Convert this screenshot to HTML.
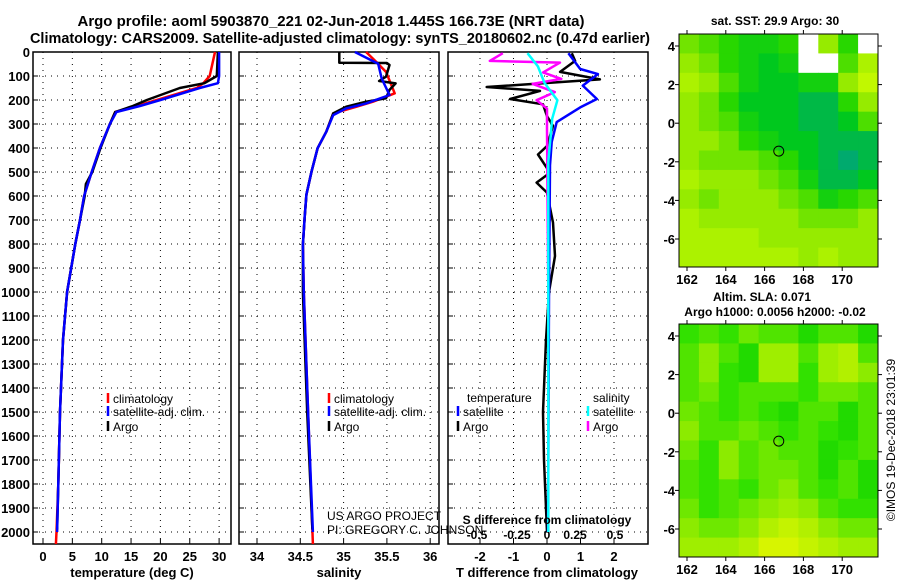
<!DOCTYPE html>
<html><head><meta charset="utf-8"><style>
html,body{margin:0;padding:0;background:#fff}
svg{display:block;font-family:"Liberation Sans",sans-serif}
.b{font-weight:bold}
</style></head><body>
<svg id="s" width="900" height="580" xmlns="http://www.w3.org/2000/svg">
<text x="331" y="26" text-anchor="middle" class="b" font-size="14.5" textLength="507" lengthAdjust="spacingAndGlyphs">Argo profile: aoml 5903870_221 02-Jun-2018 1.445S 166.73E (NRT data)</text>
<text x="340" y="43" text-anchor="middle" class="b" font-size="14.5" textLength="620" lengthAdjust="spacingAndGlyphs">Climatology: CARS2009. Satellite-adjusted climatology: synTS_20180602.nc (0.47d earlier)</text>
<text x="775" y="25" text-anchor="middle" class="b" font-size="12">sat. SST: 29.9 Argo: 30</text>
<text x="762" y="301" text-anchor="middle" class="b" font-size="12">Altim. SLA: 0.071</text>
<text x="775" y="316" text-anchor="middle" class="b" font-size="12">Argo h1000: 0.0056 h2000: -0.02</text>
<text x="0" y="0" transform="translate(895,440) rotate(-90)" text-anchor="middle" font-size="12">©IMOS 19-Dec-2018 23:01:39</text>
<text x="327" y="520" font-size="12">US ARGO PROJECT</text>
<text x="327" y="534" font-size="12">PI: GREGORY C. JOHNSON</text>
<g id="g"></g>
</svg>
<script>
// ---- data ----
const depthTicks=[0,100,200,300,400,500,600,700,800,900,1000,1100,1200,1300,1400,1500,1600,1700,1800,1900,2000];
const tempTicks=[0,5,10,15,20,25,30];
const salTicks=[34,34.5,35,35.5,36];
const tdTicks=[-2,-1,0,1,2];
const sdTicks=["-0.5","-0.25","0","0.25","0.5"];
const climTDepth=[0,100,130,150,200,225,250,300,400,500,600,700,800,1000,1200,1500,1800,2000,2050];
const climTemp=[29.3,28.4,27.3,26.2,19.4,16.0,12.3,11.4,9.7,8.3,7.0,6.3,5.5,4.1,3.4,2.9,2.6,2.3,2.2];
const satTDepth=[0,100,130,150,200,225,250,300,400,500,600,700,800,1000,1200,1500,1800,2000];
const satTemp=[30,30,29.8,26.7,20,16.5,12.5,11.4,9.7,8.3,7.0,6.3,5.5,4.1,3.4,2.9,2.6,2.4];
const argoTDepth=[0,100,130,150,200,225,250,300,400,500,550,600,700,800,1000,1200,1500,1800,1990];
const argoTemp=[29.8,29.6,27.5,23.3,17.7,15.3,12.3,11.4,9.8,8.4,7.3,7.1,6.3,5.5,4.1,3.4,2.9,2.6,2.4];
const climSDepth=[0,42,83,172,207,228,256,332,401,497,594,692,803,1000,1500,2050];
const climSal=[35.26,35.38,35.49,35.59,35.34,35.15,34.88,34.8,34.7,34.63,34.57,34.55,34.53,34.54,34.59,34.645];
const satSDepth=[0,49,111,179,214,235,263,332,401,497,594,692,803,1000,1500,2000];
const satSal=[35.13,35.4,35.44,35.53,35.26,35.03,34.88,34.8,34.7,34.63,34.57,34.55,34.53,34.54,34.59,34.645];
const argoSDepth=[0,45,46,54,103,121,131,158,193,207,228,256,332,401,497,594,692,803,914,1000,1500,1990];
const argoSal=[34.95,34.95,35.5,35.53,35.49,35.41,35.6,35.53,35.49,35.26,35.03,34.88,34.8,34.7,34.63,34.57,34.55,34.53,34.53,34.53,34.58,34.64];
const argoTdDepth=[5,37,83,114,146,162,196,218,267,308,392,427,503,544,586,711,850,1000,1200,1500,1700,2000];
const argoTd=[0.74,0.84,0.39,1.58,-1.8,-0.21,-1.1,-0.12,0,0.18,0,-0.27,0.09,-0.31,0,0.18,0.24,0.06,-0.03,-0.12,-0.09,0];
const satTdDepth=[5,71,92,140,196,231,292,375,472,1000,2000];
const satTd=[0.64,0.99,1.52,1.07,1.49,0.99,0.29,0.14,0.09,0.06,0.03];
const argoSdDepth=[5,37,44,85,112,133,167,201,236,319,1000,2000];
const argoSd=[-0.34,-0.44,0.1,-0.03,0.11,-0.11,0.06,-0.08,0,0,0.01,0.01];
const satSdDepth=[5,60,128,201,278,458,2000];
const satSd=[-0.15,-0.07,-0.02,0.08,0.04,0.01,0.01];
const lonTicks=[162,164,166,168,170];
const latTicks=[4,2,0,-2,-4,-6];
const sstGrid=[
[.4,.5,.6,.7,.7,.6,-1,.3,.6,-1],
[.3,.4,.6,.7,.8,.7,-1,-1,.5,.2],
[.2,.3,.5,.7,.8,.8,.7,.7,.3,.1],
[.3,.4,.6,.8,.8,.8,.9,.9,.6,.3],
[.3,.4,.5,.7,.8,.8,.9,.9,.8,.5],
[.3,.3,.4,.6,.7,.8,.8,.9,.9,.9],
[.3,.4,.4,.4,.5,.6,.8,.9,1,.9],
[.2,.3,.3,.3,.4,.5,.7,.9,.9,.8],
[.3,.4,.3,.3,.3,.4,.5,.7,.6,.5],
[.2,.3,.3,.3,.3,.3,.4,.4,.4,.3],
[.2,.2,.2,.2,.3,.3,.3,.3,.3,.3],
[.2,.2,.2,.2,.2,.2,.3,.2,.3,.3]];
const slaGrid=[
[.7,.6,.7,.5,.6,.6,.8,.6,.6,.8],
[.6,.4,.6,.8,.3,.3,.6,.3,.2,.6],
[.6,.4,.7,.8,.3,.3,.7,.3,.2,.4],
[.6,.5,.7,.6,.6,.6,.7,.5,.5,.6],
[.5,.6,.7,.6,.7,.8,.6,.6,.8,.6],
[.4,.6,.6,.5,.6,.7,.6,.7,.8,.6],
[.5,.7,.4,.6,.5,.6,.6,.8,.7,.6],
[.6,.7,.4,.6,.5,.5,.6,.8,.6,.8],
[.6,.7,.6,.7,.5,.4,.6,.7,.6,.8],
[.5,.7,.6,.5,.4,.3,.4,.6,.7,.7],
[.4,.5,.5,.4,.2,.1,.2,.4,.5,.5],
[.3,.3,.3,.2,0,0,.1,.2,.3,.3]];
const argoLon=166.73, argoLat=-1.445;

// ---- helpers ----
const NS="http://www.w3.org/2000/svg";
const G=document.getElementById('g');
function mk(tag,attrs,parent){const e=document.createElementNS(NS,tag);for(const k in attrs)e.setAttribute(k,attrs[k]);(parent||G).appendChild(e);return e;}
const yD=d=>52+d*0.24;
const PT=52,PB=544;
const xT=t=>43+t*5.87;
const xS=s=>257+(s-34)*86.6;
const xTd=v=>547+v*33.5;
const xSd=v=>547+v*130;

function panel(x0,x1,name){
  const r=mk('rect',{x:x0,y:PT,width:x1-x0,height:PB-PT,fill:'none',stroke:'#000','stroke-width':1.5});
  
  
  depthTicks.forEach(d=>{
    const l=mk('line',{x1:x0,x2:x1,y1:yD(d),y2:yD(d),stroke:'#000','stroke-dasharray':'1 5'});
    
    
    mk('line',{x1:x0,x2:x0+5,y1:yD(d),y2:yD(d),stroke:'#000'});
  });
}
function vgrid(xs,x0,name){
  xs.forEach(x=>{
    const l=mk('line',{x1:x,x2:x,y1:PT,y2:PB,stroke:'#000','stroke-dasharray':'1 5'});
    
    
    mk('line',{x1:x,x2:x,y1:PB,y2:PB-5,stroke:'#000'});
  });
}
function line(depths,vals,fx,color,name,w){
  const pts=depths.map((d,i)=>fx(vals[i]).toFixed(1)+','+yD(d).toFixed(1)).join(' ');
  const p=mk('polyline',{points:pts,fill:'none',stroke:color,'stroke-width':w||2.5,'stroke-linejoin':'round'});
  
  
}
function txt(x,y,s,opts){
  const t=mk('text',Object.assign({x:x,y:y,'font-size':13,'font-weight':'bold'},opts||{}));
  t.textContent=s;return t;
}

// Panel 1: temperature
panel(33,231,'temperature-panel');
vgrid(tempTicks.map(xT),33,'temperature-gridline');
tempTicks.forEach(t=>{const e=txt(xT(t),561,String(t),{'text-anchor':'middle'});});
depthTicks.forEach(d=>{const e=txt(30,yD(d)+5,String(d),{'text-anchor':'end'});});
line(climTDepth,climTemp,xT,'#f00','temperature-climatology-line');
line(argoTDepth,argoTemp,xT,'#000','temperature-argo-line');
line(satTDepth,satTemp,xT,'#00f','temperature-satellite-line');
{const e=txt(132,577,'temperature (deg C)',{'text-anchor':'middle'});}

// Panel 2: salinity
panel(239,439,'salinity-panel');
vgrid(salTicks.map(xS),239,'salinity-gridline');
salTicks.forEach(s=>{const e=txt(xS(s),561,String(s),{'text-anchor':'middle'});});
line(climSDepth,climSal,xS,'#f00','salinity-climatology-line');
line(argoSDepth,argoSal,xS,'#000','salinity-argo-line');
line(satSDepth,satSal,xS,'#00f','salinity-satellite-line');
{const e=txt(339,577,'salinity',{'text-anchor':'middle'});}

// Panel 3: differences
panel(448,648,'difference-panel');
vgrid(tdTicks.map(xTd),448,'difference-gridline');
tdTicks.forEach(t=>{const e=txt(xTd(t),561,String(t),{'text-anchor':'middle'});});
const sdPos=[477,517,547,575,615];
sdTicks.forEach((s,i)=>{const e=txt(sdPos[i],539,s,{'text-anchor':'middle','font-size':12});});
line(argoTdDepth,argoTd,xTd,'#000','t-diff-argo-line');
line(satTdDepth,satTd,xTd,'#00f','t-diff-satellite-line');
line(argoSdDepth,argoSd,xSd,'#f0f','s-diff-argo-line');
line(satSdDepth,satSd,xSd,'#0ff','s-diff-satellite-line');
{const e=txt(547,524,'S difference from climatology',{'text-anchor':'middle','font-size':12});}
{const e=txt(547,577,'T difference from climatology',{'text-anchor':'middle'});}

// legends
function leg(x,y,color,label,name){
  mk('line',{x1:x,x2:x,y1:y-10,y2:y,stroke:color,'stroke-width':2.5});
  const t=txt(x+5,y,label,{'font-size':12,'font-weight':'normal'});
  
  
}
leg(108,403,'#f00','climatology','legend-climatology');
leg(108,416,'#00f','satellite-adj. clim.','legend-satellite');
leg(108,431,'#000','Argo','legend-argo');
leg(329,403,'#f00','climatology','legend-climatology-2');
leg(329,416,'#00f','satellite-adj. clim.','legend-satellite-2');
leg(329,431,'#000','Argo','legend-argo-2');
{const t=txt(467,402,'temperature',{'font-size':12,'font-weight':'normal'});}
leg(458,416,'#00f','satellite','legend-t-satellite');
leg(458,431,'#000','Argo','legend-t-argo');
{const t=txt(593,402,'salinity',{'font-size':12,'font-weight':'normal'});}
leg(588,416,'#0ff','satellite','legend-s-satellite');
leg(588,431,'#f0f','Argo','legend-s-argo');

// maps
function lerpColor(stops,v){
  v=Math.max(0,Math.min(1,v));
  for(let i=0;i<stops.length-1;i++){
    const a=stops[i],b=stops[i+1];
    if(v<=b[0]){const f=(v-a[0])/(b[0]-a[0]);
      return 'rgb('+[1,2,3].map(k=>Math.round(a[k]+(b[k]-a[k])*f)).join(',')+')';}
  }
  const l=stops[stops.length-1];return 'rgb('+l[1]+','+l[2]+','+l[3]+')';
}
const sstStops=[[0,215,255,0],[0.3,150,235,0],[0.6,40,215,0],[0.8,0,200,30],[1,0,170,110]];
const slaStops=[[0,215,245,0],[0.4,140,235,0],[0.7,50,225,0],[1,0,205,0]];
function map(top,grid,stops,name){
  const L=679,R=878,T=top,B=top+233;
  const lx=lon=>687+(lon-162)*19.4;
  const ly=lat=>T+12+(4-lat)*19.3;
  const rows=grid.length,cols=grid[0].length;
  const cw=(R-L)/cols,ch=(B-T)/rows;
  grid.forEach((row,r)=>row.forEach((v,c)=>{
    const e=mk('rect',{x:L+c*cw,y:T+r*ch,width:cw+0.5,height:ch+0.5,fill:v<0?'#fff':lerpColor(stops,v)});
    
    
  }));
  const f=mk('rect',{x:L,y:T,width:R-L,height:B-T,fill:'none',stroke:'#000'});
  
  
  lonTicks.forEach(lon=>{
    mk('line',{x1:lx(lon),x2:lx(lon),y1:T,y2:T-4,stroke:'#000'});
    mk('line',{x1:lx(lon),x2:lx(lon),y1:B,y2:B+4,stroke:'#000'});
    const e=txt(lx(lon),B+17,String(lon),{'text-anchor':'middle'});
    
    
  });
  latTicks.forEach(lat=>{
    mk('line',{x1:L,x2:L-4,y1:ly(lat),y2:ly(lat),stroke:'#000'});
    mk('line',{x1:R,x2:R+4,y1:ly(lat),y2:ly(lat),stroke:'#000'});
    const e=txt(L-4,ly(lat)+5,String(lat),{'text-anchor':'end'});
    
    
  });
  const c=mk('circle',{cx:lx(argoLon),cy:ly(argoLat),r:5,fill:'none',stroke:'#000','stroke-width':1});
  
  
}
map(34,sstGrid,sstStops,'sst-map');
map(324,slaGrid,slaStops,'sla-map');
</script>
</body></html>
